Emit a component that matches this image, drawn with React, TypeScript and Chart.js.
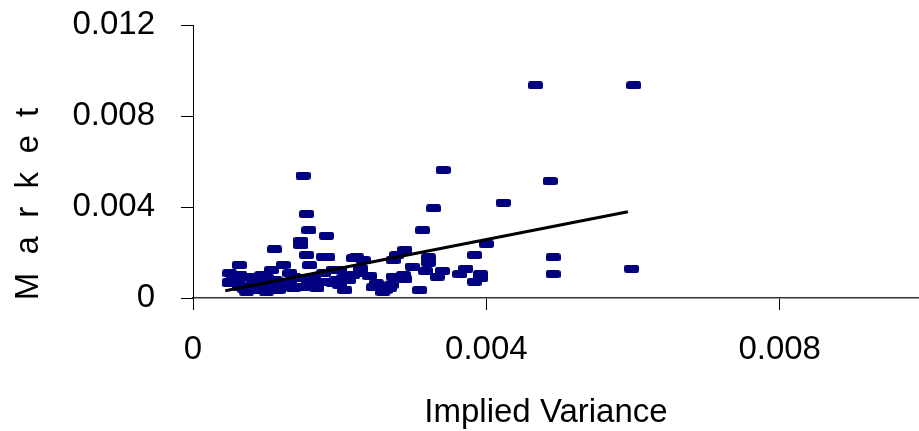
import React, { useEffect, useRef } from "react";
import { Chart, registerables } from "chart.js";

Chart.register(...registerables);

// Implied variance (x) vs market variance (y)
const impliedVariance: number[] = [
  0.00467, 0.00601, 0.00341, 0.00487, 0.0015, 0.00328, 0.00423, 0.00155, 0.00313, 0.00158,
  0.00182, 0.004, 0.00384, 0.00491, 0.00491, 0.00598, 0.00309, 0.00289, 0.00321, 0.00321,
  0.00299, 0.00317, 0.0034, 0.00333, 0.00364, 0.00372, 0.00392, 0.00392, 0.00384, 0.00289,
  0.00278, 0.00273, 0.00287, 0.00273, 0.0027, 0.00268, 0.00147, 0.00147, 0.00111, 0.00155,
  0.00178, 0.00184, 0.00159, 0.00223, 0.00232, 0.00246, 0.00262, 0.00241, 0.00218, 0.00205,
  0.00228, 0.00191, 0.00196, 0.00178, 0.00164, 0.00146, 0.00132, 0.00128, 0.00123, 0.00169,
  0.00137, 0.002, 0.00157, 0.00178, 0.002, 0.00191, 0.00212, 0.00228, 0.0025, 0.00264,
  0.00169, 0.00207, 0.0015, 0.00063, 0.0005, 0.0005, 0.00064, 0.00075, 0.00094, 0.00107,
  0.00112, 0.00064, 0.00073, 0.00087, 0.001, 0.00116, 0.00084, 0.00098, 0.0006, 0.00137,
  0.00132, 0.0005, 0.00259, 0.00219, 0.001, 0.0008, 0.0012, 0.0007, 0.00055, 0.00105,
];
const marketVariance: number[] = [
  0.00935, 0.00935, 0.00563, 0.00514, 0.00538, 0.00394, 0.00419, 0.00369, 0.00298, 0.00298,
  0.00274, 0.00238, 0.00189, 0.00179, 0.00105, 0.00129, 0.00035, 0.00212, 0.00179, 0.00155,
  0.00138, 0.00119, 0.00119, 0.00094, 0.00105, 0.00129, 0.00105, 0.00087, 0.00072, 0.00082,
  0.00189, 0.00167, 0.00101, 0.00094, 0.00057, 0.00044, 0.00252, 0.00232, 0.00214, 0.00189,
  0.00182, 0.00179, 0.00144, 0.00179, 0.00167, 0.00047, 0.00035, 0.00097, 0.00101, 0.00087,
  0.00131, 0.00123, 0.00079, 0.00072, 0.00094, 0.00087, 0.00109, 0.00072, 0.00145, 0.00057,
  0.00043, 0.00057, 0.00079, 0.00109, 0.00123, 0.00065, 0.00079, 0.00109, 0.00065, 0.00043,
  0.00043, 0.00035, 0.0005, 0.00145, 0.00109, 0.00072, 0.00101, 0.00094, 0.00101, 0.00123,
  0.00079, 0.0005, 0.00028, 0.00035, 0.00028, 0.00035, 0.00072, 0.00065, 0.00072, 0.00094,
  0.00065, 0.00065, 0.00026, 0.00175, 0.0009, 0.00055, 0.00055, 0.0004, 0.0009, 0.00045,
];

// Linear trend line end points
const trendX: number[] = [0.00044, 0.00593];
const trendY: number[] = [0.00032, 0.00379];

const xTicks: number[] = [0, 0.004, 0.008];
const yTicks: number[] = [0, 0.004, 0.008, 0.012];
const xTitle = "Implied Variance";
const yTitle = "M  a  r  k  e  t";

const FONT = "'Liberation Sans', Arial, sans-serif";

export default function App() {
  const ref = useRef<HTMLCanvasElement | null>(null);

  useEffect(() => {
    if (!ref.current) return;

    const marker = document.createElement("canvas");
    marker.width = 15;
    marker.height = 8;
    const mctx = marker.getContext("2d")!;
    mctx.fillStyle = "#000080";
    mctx.beginPath();
    (mctx as any).roundRect(0, 0, 15, 8, 2.5);
    mctx.fill();

    const titles = {
      id: "axisTitles",
      afterDraw(chart: any) {
        const ctx = chart.ctx;
        ctx.save();
        ctx.fillStyle = "#000";
        ctx.font = `33px ${FONT}`;
        ctx.textAlign = "center";
        ctx.textBaseline = "alphabetic";
        ctx.fillText(xTitle, 546, 422);
        ctx.translate(38, 204);
        ctx.rotate(-Math.PI / 2);
        ctx.fillText(yTitle, 0, 0);
        ctx.restore();
      },
    };

    const chart = new Chart(ref.current, {
      type: "scatter",
      data: {
        datasets: [
          {
            label: "Trend",
            data: trendX.map((x, i) => ({ x, y: trendY[i] })),
            showLine: true,
            borderColor: "#000",
            borderWidth: 3,
            pointRadius: 0,
            order: 0,
          },
          {
            label: "Market",
            data: impliedVariance.map((x, i) => ({ x, y: marketVariance[i] })),
            pointStyle: marker as any,
            pointRadius: 5,
            order: 1,
          },
        ],
      },
      options: {
        animation: false,
        responsive: true,
        maintainAspectRatio: false,
        layout: { padding: { top: 25, right: 0, left: 0, bottom: 0 } },
        plugins: { legend: { display: false }, tooltip: { enabled: false } },
        scales: {
          x: {
            type: "linear",
            min: 0,
            max: 0.0099,
            afterBuildTicks: (s: any) => {
              s.ticks = xTicks.map((v) => ({ value: v }));
            },
            afterFit: (s: any) => {
              s.height = 133;
              s.paddingRight = 0;
              s.paddingLeft = 0;
            },
            grid: {
              drawOnChartArea: false,
              drawTicks: true,
              tickLength: 12,
              color: "#000",
            },
            border: { color: "#333", width: 1.5 },
            ticks: {
              color: "#000",
              font: { size: 33, family: FONT },
              padding: 20,
              maxRotation: 0,
              callback: (v: any) => String(v),
            },
          },
          y: {
            type: "linear",
            min: 0,
            max: 0.012,
            afterBuildTicks: (s: any) => {
              s.ticks = yTicks.map((v) => ({ value: v }));
            },
            afterFit: (s: any) => {
              s.width = 193;
              s.paddingTop = 0;
              s.paddingBottom = 0;
            },
            grid: {
              drawOnChartArea: false,
              drawTicks: true,
              tickLength: 12,
              color: "#000",
            },
            border: { color: "#000", width: 1 },
            ticks: {
              color: "#000",
              font: { size: 33, family: FONT },
              padding: 26,
              callback: (v: any) => String(v),
            },
          },
        },
      },
      plugins: [titles],
    });

    return () => chart.destroy();
  }, []);

  return (
    <div
      style={{
        position: "fixed",
        left: 0,
        top: 0,
        width: 919,
        height: 431,
        overflow: "hidden",
        background: "#fff",
      }}
    >
      <div style={{ position: "relative", width: 925, height: 431 }}>
        <canvas ref={ref} />
      </div>
    </div>
  );
}
